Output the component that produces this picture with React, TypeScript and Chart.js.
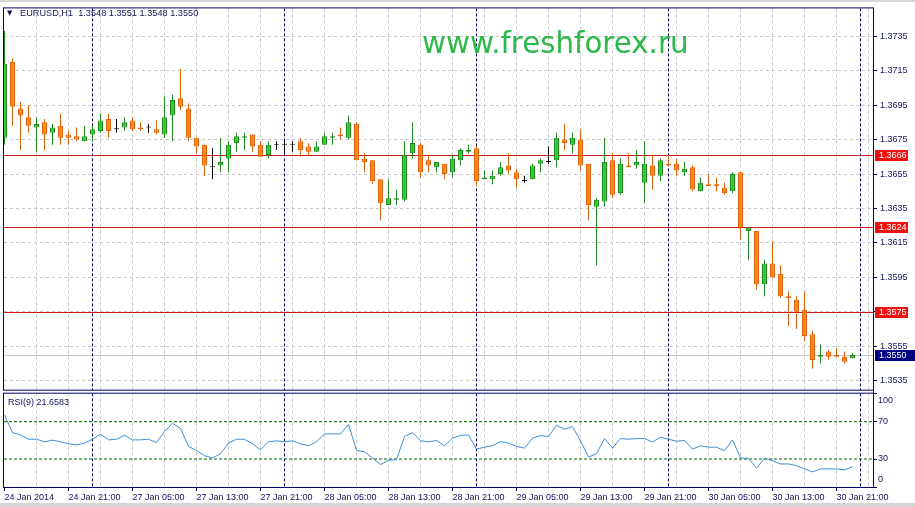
import React, { useEffect, useRef } from "react";
import { Chart, registerables } from "chart.js";

Chart.register(...registerables);

// ---------- text ----------
const symbolTitle = "EURUSD,H1";
const headerValues = ["1.3548", "1.3551", "1.3548", "1.3550"];
const watermarkText = "www.freshforex.ru";
const rsiTitle = "RSI(9) 21.6583";

// ---------- data ----------
const timeLabels = [
  "24 Jan 2014", "24 Jan 21:00", "27 Jan 05:00", "27 Jan 13:00", "27 Jan 21:00",
  "28 Jan 05:00", "28 Jan 13:00", "28 Jan 21:00", "29 Jan 05:00", "29 Jan 13:00",
  "29 Jan 21:00", "30 Jan 05:00", "30 Jan 13:00", "30 Jan 21:00",
];

const opens = [
  1.3676, 1.3720, 1.3693, 1.3688, 1.3682, 1.3685, 1.3679, 1.3683, 1.3678, 1.3677,
  1.3674, 1.3678, 1.3680, 1.3687, 1.3681, 1.3682, 1.3686, 1.3682, 1.3682, 1.3681,
  1.3678, 1.3689, 1.3699, 1.3693, 1.3676, 1.3672, 1.3659, 1.3660, 1.3664, 1.3673,
  1.3676, 1.3678, 1.3672, 1.3666, 1.3672, 1.3672, 1.3672, 1.3674, 1.3671, 1.3668,
  1.3672, 1.3676, 1.3678, 1.3676, 1.3684, 1.3664, 1.3663, 1.3652, 1.3637, 1.3640,
  1.3640, 1.3667, 1.3672, 1.3663, 1.3659, 1.3661, 1.3656, 1.3663, 1.3668, 1.3670,
  1.3652, 1.3652, 1.3655, 1.3660, 1.3656, 1.3651, 1.3652, 1.3661, 1.3662, 1.3663,
  1.3675, 1.3672, 1.3675, 1.3661, 1.3636, 1.3639, 1.3663, 1.3644, 1.3660, 1.3660,
  1.3650, 1.3660, 1.3654, 1.3661, 1.3661, 1.3656, 1.3659, 1.3645, 1.3649, 1.3649,
  1.3647, 1.3645, 1.3656, 1.3622, 1.3622, 1.3591, 1.3603, 1.3597, 1.3584, 1.3582,
  1.3576, 1.3562, 1.3549, 1.3552, 1.3550, 1.3549, 1.3548,
];
const highs = [
  1.3738, 1.3722, 1.3697, 1.3695, 1.3688, 1.3687, 1.3684, 1.3690, 1.3680, 1.3682,
  1.3683, 1.3683, 1.3690, 1.3690, 1.3687, 1.3688, 1.3688, 1.3685, 1.3684, 1.3686,
  1.3700, 1.3701, 1.3716, 1.3696, 1.3676, 1.3672, 1.3670, 1.3676, 1.3674, 1.3679,
  1.3679, 1.3678, 1.3674, 1.3674, 1.3674, 1.3674, 1.3674, 1.3676, 1.3673, 1.3674,
  1.3679, 1.3679, 1.3682, 1.3689, 1.3685, 1.3667, 1.3663, 1.3652, 1.3652, 1.3646,
  1.3674, 1.3685, 1.3673, 1.3666, 1.3662, 1.3661, 1.3666, 1.3670, 1.3672, 1.3671,
  1.3657, 1.3657, 1.3662, 1.3667, 1.3658, 1.3654, 1.3661, 1.3664, 1.3671, 1.3679,
  1.3684, 1.3679, 1.3681, 1.3661, 1.3641, 1.3676, 1.3667, 1.3664, 1.3667, 1.3669,
  1.3674, 1.3666, 1.3664, 1.3666, 1.3664, 1.3662, 1.3660, 1.3653, 1.3655, 1.3653,
  1.3650, 1.3656, 1.3656, 1.3624, 1.3622, 1.3605, 1.3616, 1.3602, 1.3587, 1.3584,
  1.3587, 1.3564, 1.3556, 1.3553, 1.3554, 1.3552, 1.3551,
];
const lows = [
  1.3672, 1.3683, 1.3669, 1.3679, 1.3668, 1.3669, 1.3672, 1.3672, 1.3672, 1.3674,
  1.3674, 1.3674, 1.3679, 1.3676, 1.3679, 1.3680, 1.3680, 1.3680, 1.3679, 1.3678,
  1.3676, 1.3674, 1.3692, 1.3674, 1.3667, 1.3654, 1.3652, 1.3656, 1.3656, 1.3668,
  1.3669, 1.3668, 1.3665, 1.3664, 1.3669, 1.3667, 1.3668, 1.3665, 1.3666, 1.3668,
  1.3672, 1.3672, 1.3675, 1.3675, 1.3663, 1.3656, 1.3649, 1.3628, 1.3637, 1.3637,
  1.3639, 1.3664, 1.3653, 1.3656, 1.3656, 1.3652, 1.3653, 1.3660, 1.3667, 1.3648,
  1.3652, 1.3649, 1.3654, 1.3655, 1.3647, 1.3650, 1.3652, 1.3656, 1.3661, 1.3659,
  1.3669, 1.3667, 1.3657, 1.3628, 1.3602, 1.3636, 1.3641, 1.3643, 1.3659, 1.3658,
  1.3638, 1.3646, 1.3651, 1.3660, 1.3654, 1.3654, 1.3645, 1.3645, 1.3648, 1.3645,
  1.3643, 1.3644, 1.3617, 1.3605, 1.3588, 1.3584, 1.3595, 1.3583, 1.3567, 1.3565,
  1.3558, 1.3542, 1.3545, 1.3547, 1.3549, 1.3545, 1.3548,
];
const closes = [
  1.3719, 1.3694, 1.3689, 1.3683, 1.3684, 1.3678, 1.3682, 1.3676, 1.3676, 1.3675,
  1.3677, 1.3681, 1.3686, 1.3680, 1.3681, 1.3685, 1.3681, 1.3681, 1.3682, 1.3679,
  1.3688, 1.3698, 1.3694, 1.3676, 1.3671, 1.3660, 1.3659, 1.3662, 1.3672, 1.3677,
  1.3677, 1.3671, 1.3665, 1.3672, 1.3672, 1.3672, 1.3672, 1.3669, 1.3668, 1.3671,
  1.3677, 1.3677, 1.3677, 1.3685, 1.3663, 1.3662, 1.3651, 1.3638, 1.3641, 1.3641,
  1.3666, 1.3673, 1.3656, 1.3660, 1.3662, 1.3655, 1.3664, 1.3669, 1.3669, 1.3651,
  1.3653, 1.3654, 1.3659, 1.3657, 1.3652, 1.3651, 1.3660, 1.3663, 1.3662, 1.3676,
  1.3673, 1.3676, 1.3660, 1.3637, 1.3640, 1.3662, 1.3643, 1.3661, 1.3659, 1.3662,
  1.3661, 1.3654, 1.3663, 1.3660, 1.3657, 1.3658, 1.3646, 1.3650, 1.3648, 1.3648,
  1.3644, 1.3655, 1.3624, 1.3624, 1.3591, 1.3603, 1.3595, 1.3584, 1.3583, 1.3575,
  1.3561, 1.3547, 1.3550, 1.3549, 1.3549, 1.3546, 1.3550,
];
const rsiValues = [
  77.1, 58.3, 55.8, 51.2, 51.2, 48.4, 50.2, 48.4, 46.3, 45.2,
  47.0, 51.2, 56.6, 50.5, 51.2, 55.5, 50.5, 50.5, 51.2, 47.7,
  59.4, 68.2, 62.9, 43.5, 39.2, 33.5, 31.1, 35.7, 47.0, 51.2,
  51.2, 46.3, 39.9, 48.4, 49.5, 48.4, 49.5, 46.3, 44.2, 48.4,
  56.9, 56.9, 56.9, 67.2, 39.2, 37.8, 31.1, 24.0, 28.6, 29.3,
  54.1, 58.3, 49.5, 48.4, 49.8, 44.2, 52.3, 55.3, 55.8, 40.6,
  42.7, 44.2, 48.8, 47.0, 43.5, 41.7, 52.3, 55.1, 54.1, 66.1,
  61.9, 64.7, 49.5, 32.1, 35.7, 51.9, 41.7, 51.9, 51.2, 51.9,
  51.9, 48.1, 53.4, 51.2, 49.1, 49.8, 40.6, 44.2, 42.7, 42.7,
  38.9, 50.5, 31.1, 30.7, 20.1, 30.7, 28.2, 24.7, 24.7, 22.9,
  19.4, 16.2, 19.4, 19.4, 19.4, 18.3, 21.7,
];
const priceTicks = [1.3535, 1.3555, 1.3575, 1.3595, 1.3615, 1.3635, 1.3655, 1.3675, 1.3695, 1.3715, 1.3735];
const rsiTicks = [100, 70, 30, 0];
const levelPrices = [1.3666, 1.3624, 1.3575];
const rsiLevels = [70, 30];
const bidPrice = 1.355;
const daySeparators = [11, 35, 59, 83, 107];
const gridBars = [0, 4, 8, 12, 16, 20, 24, 28, 32, 36, 40, 44, 48, 52, 56, 60, 64, 68, 72, 76, 80, 84, 88, 92, 96, 100, 104, 108];

// ---------- view ----------
const X_MIN = -0.0625;
const X_MAX = 108.5625;
const PRICE_MIN = 1.352895;
const PRICE_MAX = 1.375114;
const RSI_MIN = 0;
const RSI_MAX = 102.7;

// ---------- style ----------
const NAVY = "#000066";
const TEXT = "#14145a";
const GRID = "#c8c8c8";
const GREEN_FILL = "#33cc33";
const GREEN_EDGE = "#1f8a1f";
const ORANGE_FILL = "#ff8a1a";
const ORANGE_EDGE = "#e0600c";
const DOJI = "#000000";
const LEVEL_RED = "#d81818";
const TAG_RED = "#ee1111";
const RSI_BLUE = "#3d8fd8";
const RSI_LEVEL = "#006600";
const FONT = '"Liberation Sans", Arial, sans-serif';

const dirOf = (i: number) => (closes[i] > opens[i] ? 1 : closes[i] < opens[i] ? -1 : 0);
const fillOf = (i: number) => { const d = dirOf(i); return d > 0 ? GREEN_FILL : d < 0 ? ORANGE_FILL : DOJI; };
const edgeOf = (i: number) => { const d = dirOf(i); return d > 0 ? GREEN_EDGE : d < 0 ? ORANGE_EDGE : DOJI; };

const decorPlugin = {
  id: "mtDecor",
  beforeDatasetsDraw(chart: any) {
    const { ctx, chartArea } = chart;
    const xs = chart.scales.x;
    const ys = chart.scales.y;
    ctx.save();
    ctx.lineWidth = 1;
    // bid line and horizontal levels (pixel-snapped through the price scale)
    ctx.setLineDash([]);
    const hline = (price: number, color: string) => {
      const py = Math.round(ys.getPixelForValue(price)) + 0.5;
      ctx.strokeStyle = color;
      ctx.beginPath();
      ctx.moveTo(chartArea.left, py);
      ctx.lineTo(chartArea.right, py);
      ctx.stroke();
    };
    hline(bidPrice, "#c8c8c8");
    for (const p of levelPrices) hline(p, LEVEL_RED);
    // day separators
    ctx.strokeStyle = NAVY;
    ctx.setLineDash([3, 2]);
    for (const s of daySeparators) {
      const px = xs.getPixelForValue(s);
      ctx.beginPath();
      ctx.moveTo(px, chartArea.top);
      ctx.lineTo(px, chartArea.bottom);
      ctx.stroke();
    }
    ctx.restore();
  },
  afterDraw(chart: any) {
    const { ctx, chartArea } = chart;
    const ys = chart.scales.y;
    const rs = chart.scales.rsi;
    ctx.save();
    ctx.fillStyle = "#ffffff";
    ctx.fillRect(chartArea.left, ys.bottom - 1, chartArea.right - chartArea.left, rs.top + 2 - (ys.bottom - 1));
    ctx.strokeStyle = NAVY;
    ctx.lineWidth = 1;
    ctx.setLineDash([]);
    const l = chartArea.left - 0.5;
    const r = chartArea.right + 0.5;
    ctx.strokeRect(l, ys.top - 0.5, r - l, ys.bottom - 1 - (ys.top - 0.5));
    ctx.strokeRect(l, rs.top + 2, r - l, rs.bottom + 0.5 - (rs.top + 2));
    ctx.font = `9px ${FONT}`;
    ctx.textBaseline = "middle";
    const tag = (price: number, bg: string, w: number) => {
      const py = ys.getPixelForValue(price);
      ctx.fillStyle = bg;
      ctx.fillRect(ys.left + 2, Math.round(py) - 5, w, 11);
      ctx.fillStyle = "#ffffff";
      ctx.fillText(price.toFixed(4), ys.left + 6, Math.round(py) + 0.5);
    };
    for (const p of levelPrices) tag(p, TAG_RED, 33);
    tag(bidPrice, "#000080", 40);
    ctx.fillStyle = TEXT;
    for (const v of rsiTicks) {
      let py = rs.getPixelForValue(v);
      py = Math.max(rs.top + 9, Math.min(rs.bottom - 7, py));
      ctx.fillText(String(v), rs.left + 5, py);
    }
    ctx.restore();
  },
};

export default function App() {
  const canvasRef = useRef<HTMLCanvasElement | null>(null);

  useEffect(() => {
    const canvas = canvasRef.current;
    if (!canvas) return;
    const idx = opens.map((_, i) => i);
    const chart = new Chart(canvas, {
      type: "bar",
      data: {
        datasets: [
          {
            type: "bar",
            label: "body",
            yAxisID: "y",
            data: idx.map((i) => ({ x: i, y: [opens[i], closes[i]] })) as any,
            backgroundColor: (c: any) => fillOf(c.dataIndex),
            borderColor: (c: any) => edgeOf(c.dataIndex),
            borderWidth: 1,
            borderSkipped: false,
            barThickness: 5,
            minBarLength: 1,
            grouped: false,
            inflateAmount: 0,
            order: 0,
          } as any,
          {
            type: "bar",
            label: "wick",
            yAxisID: "y",
            data: idx.map((i) => ({ x: i, y: [lows[i], highs[i]] })) as any,
            backgroundColor: (c: any) => edgeOf(c.dataIndex),
            borderWidth: 0,
            barThickness: 1,
            grouped: false,
            inflateAmount: 0,
            order: 1,
          } as any,
          ...rsiLevels.map((v) => ({
            type: "line",
            label: "rsi level " + v,
            yAxisID: "rsi",
            data: [{ x: X_MIN, y: v }, { x: X_MAX, y: v }],
            borderColor: RSI_LEVEL,
            borderWidth: 1,
            borderDash: [3, 2],
            pointRadius: 0,
            fill: false,
            order: 3,
          })) as any,
          {
            type: "line",
            label: "RSI",
            yAxisID: "rsi",
            data: rsiValues.map((v, i) => ({ x: i, y: v })),
            borderColor: RSI_BLUE,
            borderWidth: 1,
            pointRadius: 0,
            tension: 0,
            fill: false,
            order: 0,
          } as any,
        ],
      },
      options: {
        animation: false,
        responsive: false,
        maintainAspectRatio: false,
        layout: { padding: { left: 4, top: 5, right: 0, bottom: 0 } },
        plugins: { legend: { display: false }, tooltip: { enabled: false } },
        scales: {
          x: {
            type: "linear",
            position: "bottom",
            offset: false,
            min: X_MIN,
            max: X_MAX,
            afterBuildTicks: (s: any) => { s.ticks = gridBars.map((v) => ({ value: v })); },
            afterFit: (s: any) => { s.height = 20; },
            ticks: {
              autoSkip: false,
              maxRotation: 0,
              minRotation: 0,
              align: "start",
              padding: 1,
              color: TEXT,
              font: { family: FONT, size: 9 },
              callback: (v: any) => (Number(v) % 8 === 0 ? timeLabels[Number(v) / 8] ?? "" : ""),
            },
            grid: {
              offset: false,
              color: (c: any) => (c.tick && c.tick.value === 0 ? "rgba(0,0,0,0)" : GRID),
              lineWidth: 1,
              drawTicks: true,
              tickLength: 4,
              tickWidth: 1,
              tickColor: (c: any) => (c.tick && c.tick.value % 8 === 0 ? NAVY : "rgba(0,0,0,0)"),
            },
            border: { display: true, color: NAVY, width: 1, dash: [3, 3] },
          } as any,
          y: {
            type: "linear",
            position: "right",
            stack: "panes",
            stackWeight: 385.5,
            min: PRICE_MIN,
            max: PRICE_MAX,
            afterBuildTicks: (s: any) => { s.ticks = priceTicks.map((v) => ({ value: v })); },
            afterFit: (s: any) => { s.width = 42; },
            ticks: {
              autoSkip: false,
              padding: 3,
              color: TEXT,
              font: { family: FONT, size: 9 },
              callback: (v: any) => Number(v).toFixed(4),
            },
            grid: { color: GRID, lineWidth: 1, drawTicks: true, tickLength: 4, tickColor: NAVY },
            border: { display: true, color: NAVY, width: 1, dash: [3, 3] },
          } as any,
          rsi: {
            type: "linear",
            position: "right",
            stack: "panes",
            stackWeight: 96.5,
            min: RSI_MIN,
            max: RSI_MAX,
            afterBuildTicks: (s: any) => { s.ticks = rsiTicks.map((v) => ({ value: v })); },
            afterFit: (s: any) => { s.width = 42; },
            ticks: { display: false },
            grid: { drawOnChartArea: false, drawTicks: true, tickLength: 4, tickColor: NAVY },
            border: { display: true, color: NAVY, width: 1 },
          } as any,
        },
      },
      plugins: [decorPlugin],
    });
    return () => chart.destroy();
  }, []);

  return (
    <div style={{ position: "fixed", left: 0, top: 0, width: 915, height: 507, background: "#ffffff", overflow: "hidden" }}>
      <div style={{ position: "absolute", left: 0, top: 0, width: 915, height: 2, background: "#d6d6d6" }} />
      <div style={{ position: "absolute", left: 0, top: 503, width: 915, height: 4, background: "#d6d6d6" }} />
      <canvas ref={canvasRef} width={915} height={507} style={{ position: "absolute", left: 0, top: 0, width: 915, height: 507 }} />
      <div style={{ position: "absolute", left: 7, top: 8, fontFamily: "DejaVu Sans, sans-serif", fontSize: 7, lineHeight: "11px", color: TEXT }}>▼</div>
      <div style={{ position: "absolute", left: 20, top: 8, fontFamily: FONT, fontSize: 9.2, lineHeight: "11px", color: TEXT, whiteSpace: "pre" }}>
        {symbolTitle + "  " + headerValues.join(" ")}
      </div>
      <div style={{ position: "absolute", left: 422, top: 28, fontFamily: '"DejaVu Sans", sans-serif', fontSize: 29.3, lineHeight: "30px", color: "#2db84a", whiteSpace: "pre" }}>
        {watermarkText}
      </div>
      <div style={{ position: "absolute", left: 8, top: 397, fontFamily: FONT, fontSize: 9, lineHeight: "11px", color: TEXT, whiteSpace: "pre" }}>
        {rsiTitle}
      </div>
    </div>
  );
}
